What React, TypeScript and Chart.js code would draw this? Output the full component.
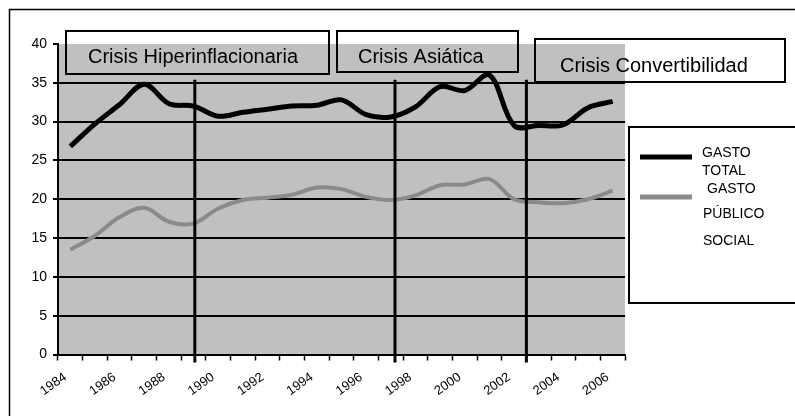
import React, { useEffect, useRef } from "react";
import { Chart, registerables } from "chart.js";

Chart.register(...registerables);

// ---------- data ----------
const years = [
  "1984", "1985", "1986", "1987", "1988", "1989", "1990", "1991", "1992", "1993", "1994", "1995",
  "1996", "1997", "1998", "1999", "2000", "2001", "2002", "2003", "2004", "2005", "2006",
];
const tickLabels = ["1984", "1986", "1988", "1990", "1992", "1994", "1996", "1998", "2000", "2002", "2004", "2006"];
const gastoTotal = [
  26.8, 29.7, 32.2, 34.8, 32.3, 32.0, 30.7, 31.2, 31.6, 32.0, 32.1, 32.8,
  30.9, 30.6, 31.9, 34.5, 34.0, 36.0, 29.5, 29.5, 29.6, 31.8, 32.6,
];
const gastoSocial = [
  13.5, 15.3, 17.7, 18.9, 17.1, 16.9, 18.8, 19.9, 20.2, 20.6, 21.5, 21.3,
  20.3, 19.9, 20.5, 21.8, 21.9, 22.6, 20.0, 19.6, 19.5, 20.0, 21.1,
];
const yTicks = [0, 5, 10, 15, 20, 25, 30, 35, 40];
const crisisNames = ["Crisis Hiperinflacionaria", "Crisis Asiática", "Crisis Convertibilidad"];
const crisisYears = [1989.05, 1997.17, 2002.5];
const crisisLineTop = 35.4;
const legendTotal = ["GASTO", "TOTAL"];
const legendSocial = ["GASTO", "PÚBLICO", "SOCIAL"];

// ---------- layout / style ----------
const FONT = '"Liberation Sans", Arial, sans-serif';
const boxes = [
  { x: 66, y: 31, w: 263, h: 43, tx: 88, ty: 63 },
  { x: 337, y: 31, w: 181, h: 41, tx: 358, ty: 63 },
  { x: 535, y: 39, w: 250, h: 43, tx: 560, ty: 72 },
];

const decor = {
  id: "decor",
  beforeDraw(chart: any) {
    const { ctx, chartArea: a } = chart;
    ctx.save();
    ctx.fillStyle = "#ffffff";
    ctx.fillRect(0, 0, chart.width, chart.height);
    ctx.fillStyle = "#c0c0c0";
    ctx.fillRect(a.left, a.top, a.right - a.left, a.bottom - a.top);
    ctx.restore();
  },
  afterDatasetsDraw(chart: any) {
    const { ctx, chartArea: a, scales } = chart;
    const x = scales.x;
    const y = scales.y;
    ctx.save();
    ctx.strokeStyle = "#000";
    ctx.lineWidth = 3;
    crisisYears.forEach((yr) => {
      const px = x.getPixelForValue(yr - Number(years[0]));
      ctx.beginPath();
      ctx.moveTo(px, y.getPixelForValue(crisisLineTop));
      ctx.lineTo(px, a.bottom + 8);
      ctx.stroke();
    });
    ctx.restore();
  },
  afterDraw(chart: any) {
    const { ctx } = chart;
    ctx.save();
    // outer border
    ctx.strokeStyle = "#000";
    ctx.lineWidth = 1.5;
    ctx.strokeRect(9.5, 9.5, 820, 440);
    // crisis boxes
    ctx.lineWidth = 2;
    ctx.font = `20px ${FONT}`;
    ctx.fillStyle = "#000";
    ctx.textBaseline = "alphabetic";
    ctx.textAlign = "left";
    boxes.forEach((b, i) => {
      ctx.strokeRect(b.x, b.y, b.w, b.h);
      ctx.fillText(crisisNames[i], b.tx, b.ty);
    });
    // legend
    ctx.fillStyle = "#fff";
    ctx.fillRect(629, 127, 200, 176);
    ctx.strokeRect(629, 127, 200, 176);
    ctx.lineWidth = 5;
    ctx.strokeStyle = "#000";
    ctx.beginPath();
    ctx.moveTo(640, 157);
    ctx.lineTo(692, 157);
    ctx.stroke();
    ctx.strokeStyle = "#8a8a8a";
    ctx.beginPath();
    ctx.moveTo(640, 197);
    ctx.lineTo(692, 197);
    ctx.stroke();
    ctx.fillStyle = "#000";
    ctx.font = `14px ${FONT}`;
    ctx.fillText(legendTotal[0], 702, 157);
    ctx.fillText(legendTotal[1], 702, 175);
    ctx.fillText(legendSocial[0], 707, 193);
    ctx.fillText(legendSocial[1], 703, 218);
    ctx.fillText(legendSocial[2], 703, 245);
    ctx.restore();
  },
};

export default function App() {
  const ref = useRef<HTMLCanvasElement | null>(null);

  useEffect(() => {
    if (!ref.current) return;
    const chart = new Chart(ref.current, {
      type: "line",
      data: {
        labels: years,
        datasets: [
          {
            label: "GASTO TOTAL",
            data: gastoTotal,
            borderColor: "#000000",
            borderWidth: 5,
            pointRadius: 0,
            tension: 0.35,
            fill: false,
          },
          {
            label: "GASTO PÚBLICO SOCIAL",
            data: gastoSocial,
            borderColor: "#8a8a8a",
            borderWidth: 4,
            pointRadius: 0,
            tension: 0.35,
            fill: false,
          },
        ],
      },
      options: {
        responsive: false,
        animation: false,
        devicePixelRatio: 1,
        layout: { padding: { left: 0, top: 44, right: 170, bottom: 0 } },
        plugins: { legend: { display: false }, tooltip: { enabled: false } },
        scales: {
          x: {
            type: "category",
            offset: true,
            grid: {
              display: true,
              offset: true,
              drawOnChartArea: false,
              drawTicks: true,
              tickLength: 6,
              tickColor: "#000",
              tickWidth: 1.5,
            },
            border: { display: true, color: "#000", width: 2 },
            ticks: {
              autoSkip: false,
              minRotation: 35,
              maxRotation: 35,
              color: "#000",
              padding: 9,
              labelOffset: -5,
              font: { family: FONT, size: 13 },
              callback: (_v: any, i: number) => (tickLabels.includes(years[i]) ? years[i] : ""),
            },
            afterFit: (s: any) => {
              s.height = 61.5;
            },
          },
          y: {
            min: yTicks[0],
            max: yTicks[yTicks.length - 1],
            afterBuildTicks: (s: any) => {
              s.ticks = yTicks.map((v) => ({ value: v }));
            },
            grid: {
              color: (c: any) => (c.tick && c.tick.value === 40 ? "rgba(0,0,0,0)" : "#000"),
              lineWidth: 2,
              tickColor: "#000",
              tickLength: 5,
            },
            border: { display: true, color: "#000", width: 2 },
            ticks: {
              color: "#000",
              padding: 6,
              font: { family: FONT, size: 14 },
            },
            afterFit: (s: any) => {
              s.width = 58;
            },
          },
        },
      },
      plugins: [decor],
    });
    return () => chart.destroy();
  }, []);

  return (
    <div style={{ position: "absolute", left: 0, top: 0, width: 795, height: 416, background: "#fff" }}>
      <canvas ref={ref} width={795} height={416} style={{ display: "block" }} />
    </div>
  );
}
